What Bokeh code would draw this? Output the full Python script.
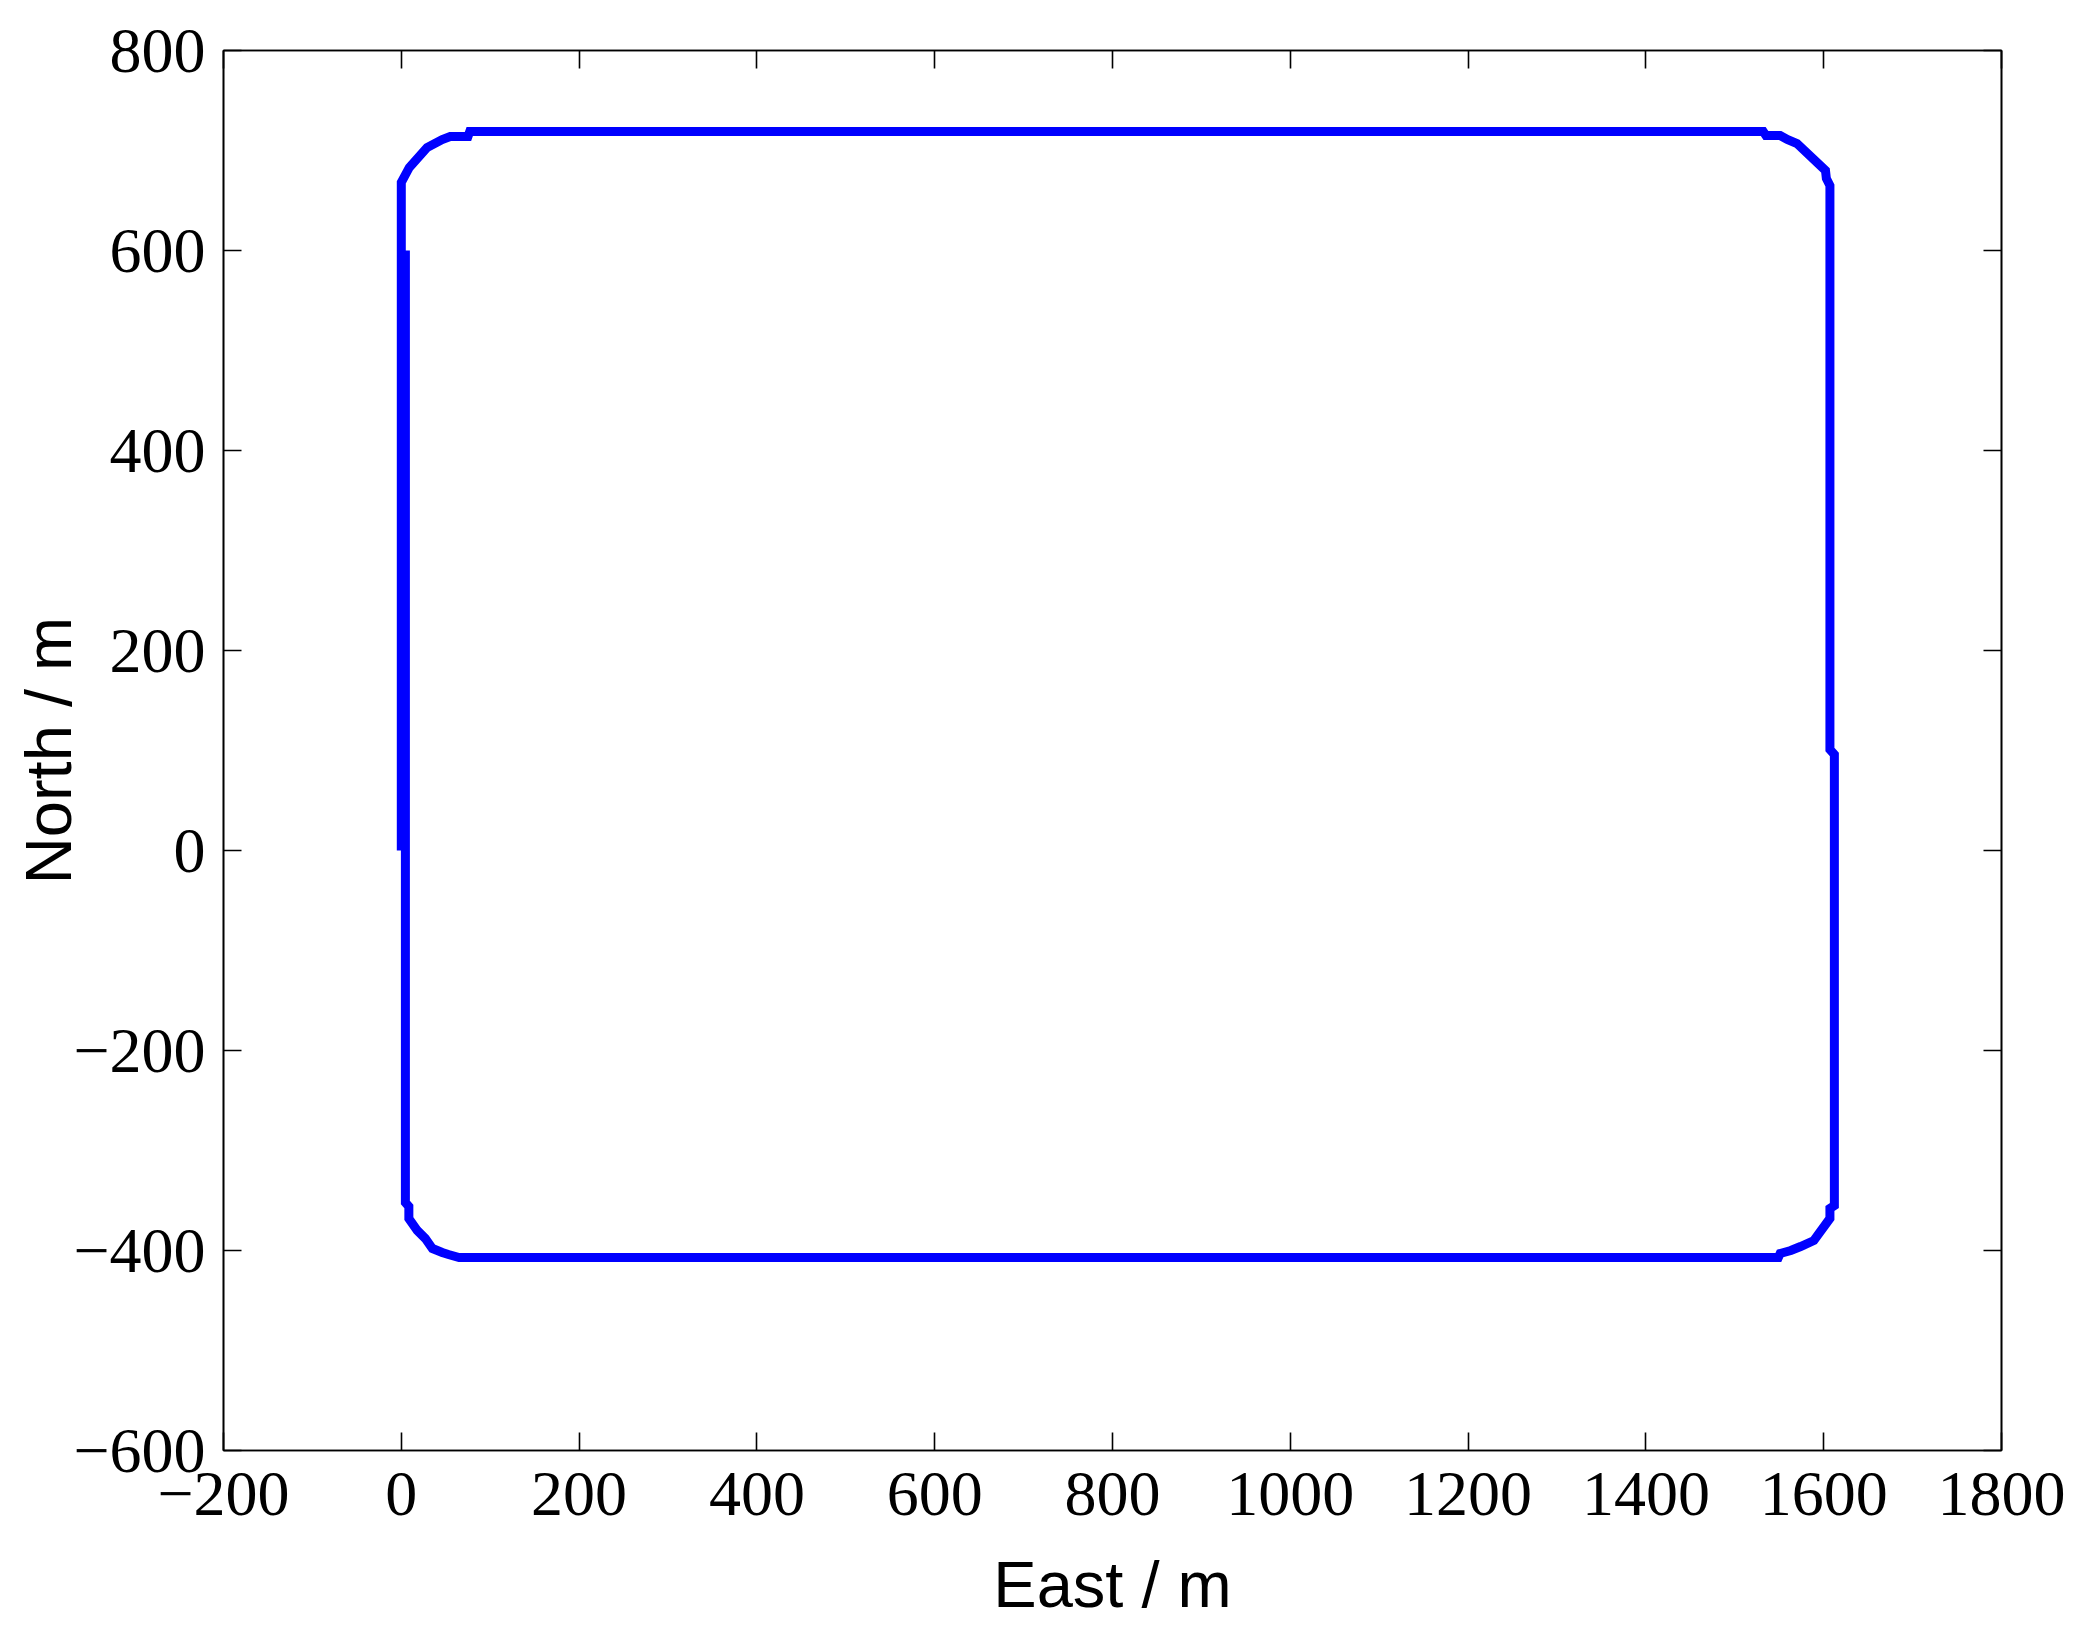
from bokeh.plotting import figure
from bokeh.models import LinearAxis, FixedTicker, Range1d
from bokeh.embed import file_html
from bokeh.resources import INLINE

# Trajectory (East, North) in metres
east = [0, 0, 9, 29, 46, 55, 75, 77, 1532, 1535, 1551, 1559, 1570, 1602, 1603, 1607,
        1607, 1612, 1612, 1607, 1607, 1589, 1574, 1563, 1551, 1549,
        65, 53, 46, 35, 27, 18, 8.5, 8.5, 4.6, 4.6]
north = [0, 668, 683, 703, 711, 714, 714, 719, 719, 715, 715, 711, 707, 680, 672, 665,
         101, 96, -355, -358, -368, -390, -396, -400, -403, -407,
         -407, -404, -402, -398, -388, -380, -368, -356, -352, 600]

x_ticks = [-200, 0, 200, 400, 600, 800, 1000, 1200, 1400, 1600, 1800]
y_ticks = [-600, -400, -200, 0, 200, 400, 600, 800]
x_tick_labels = {t: (str(t).replace("-", "\u2212")) for t in x_ticks}
y_tick_labels = {t: (str(t).replace("-", "\u2212")) for t in y_ticks}

TICK_FONT = "Liberation Serif"
LABEL_FONT = "Liberation Sans"

p = figure(frame_width=1778, frame_height=1400,
           min_border_left=223, min_border_right=80, min_border_top=50, min_border_bottom=180,
           x_range=Range1d(-200, 1800), y_range=Range1d(-600, 800),
           output_backend="svg", toolbar_location=None,
           x_axis_label="East / m", y_axis_label="North / m")

p.line(east, north, line_color="#0000ff", line_width=9, line_join="miter")

p.grid.visible = False
p.background_fill_color = "white"
p.border_fill_color = "white"
p.outline_line_color = "black"
p.outline_line_width = 1.6

def style_axis(ax, ticks, labels, show_labels=True):
    ax.ticker = FixedTicker(ticks=ticks)
    ax.major_label_overrides = labels
    ax.major_tick_in = 18
    ax.major_tick_out = 0
    ax.minor_tick_line_color = None
    ax.axis_line_color = "black"
    ax.axis_line_width = 1.6
    ax.major_tick_line_width = 1.6
    ax.major_label_text_font = TICK_FONT
    ax.axis_label_text_font = LABEL_FONT
    ax.axis_label_text_font_style = "normal"
    ax.axis_label_text_font_size = "65px"
    ax.axis_label_text_color = "black"
    if show_labels:
        ax.major_label_text_font_size = "64px"
        ax.major_label_text_color = "black"
    else:
        ax.major_label_text_color = None
        ax.major_label_standoff = 0

style_axis(p.xaxis[0], x_ticks, x_tick_labels)
style_axis(p.yaxis[0], y_ticks, y_tick_labels)
p.xaxis[0].major_label_standoff = 22
p.xaxis[0].axis_label_standoff = 30
p.yaxis[0].major_label_standoff = 18
p.yaxis[0].axis_label_standoff = -15

top_ax = LinearAxis()
right_ax = LinearAxis()
style_axis(top_ax, x_ticks, {}, show_labels=False)
style_axis(right_ax, y_ticks, {}, show_labels=False)
p.add_layout(top_ax, "above")
p.add_layout(right_ax, "right")

open("out.html", "w").write(file_html(p, INLINE))
